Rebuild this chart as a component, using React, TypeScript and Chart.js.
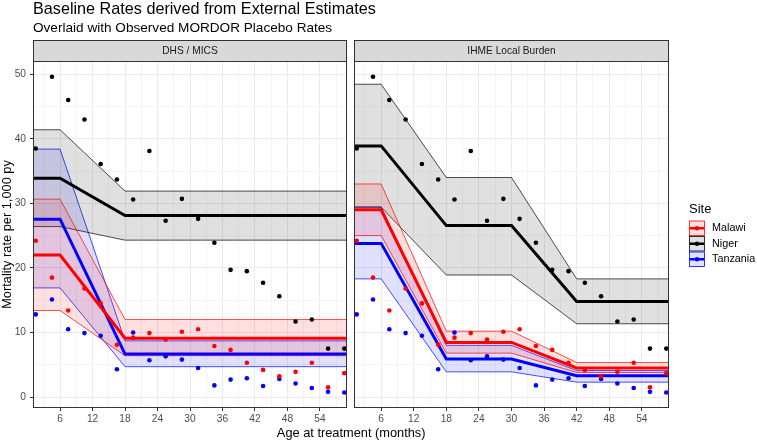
import React, { useEffect, useRef } from "react";
import { Chart, registerables } from "chart.js";
Chart.register(...registerables);

const FONT = "'Liberation Sans', Arial, Helvetica, sans-serif";

const siteNames = ["Malawi", "Niger", "Tanzania"];
const siteColors = ["#ff0000", "#000000", "#0000ff"];
const siteFills = ["rgba(255,0,0,0.12)", "rgba(0,0,0,0.12)", "rgba(0,0,255,0.12)"];

// Observed MORDOR placebo rates (same in both panels)
const obsAge = [1.5, 4.5, 7.5, 10.5, 13.5, 16.5, 19.5, 22.5, 25.5, 28.5, 31.5, 34.5, 37.5, 40.5, 43.5, 46.5, 49.5, 52.5, 55.5, 58.5];
const malawiObs = [24.2, 18.5, 13.4, 16.8, 14.5, 8.1, 9.2, 9.9, 8.9, 10.1, 10.5, 7.9, 7.3, 5.3, 4.2, 3.2, 3.9, 5.3, 1.5, 3.7];
const nigerObs = [38.5, 49.6, 46.0, 43.0, 36.1, 33.7, 30.6, 38.1, 27.3, 30.7, 27.6, 23.9, 19.7, 19.5, 17.7, 15.6, 11.7, 12.0, 7.5, 7.5];
const tanzaniaObs = [12.8, 15.1, 10.5, 9.9, 9.5, 4.3, 10.0, 5.7, 6.3, 5.8, 4.5, 1.8, 2.7, 2.9, 1.7, 2.8, 2.1, 1.4, 0.8, 0.7];

// DHS / MICS estimates
const dhsAge = [1, 6, 18, 59];
const dhsMalawiMean = [22.0, 22.0, 9.1, 9.1];
const dhsMalawiUpper = [30.65, 30.65, 12.0, 12.0];
const dhsMalawiLower = [13.4, 13.4, 6.4, 6.4];
const dhsNigerMean = [33.9, 33.9, 28.1, 28.1];
const dhsNigerUpper = [41.4, 41.4, 31.9, 31.9];
const dhsNigerLower = [26.4, 26.4, 24.3, 24.3];
const dhsTanzaniaMean = [27.55, 27.55, 6.65, 6.65];
const dhsTanzaniaUpper = [38.4, 38.4, 8.7, 8.7];
const dhsTanzaniaLower = [16.9, 16.9, 4.7, 4.7];

// IHME Local Burden estimates
const ihmeAge = [1, 6, 18, 30, 42, 59];
const ihmeMalawiMean = [29.0, 29.0, 8.45, 8.45, 4.5, 4.5];
const ihmeMalawiUpper = [33.0, 33.0, 10.2, 10.2, 5.35, 5.35];
const ihmeMalawiLower = [25.0, 25.0, 6.8, 6.8, 3.8, 3.8];
const ihmeNigerMean = [38.9, 38.9, 26.55, 26.55, 14.8, 14.8];
const ihmeNigerUpper = [48.45, 48.45, 34.0, 34.0, 18.3, 18.3];
const ihmeNigerLower = [29.4, 29.4, 18.9, 18.9, 11.35, 11.35];
const ihmeTanzaniaMean = [23.8, 23.8, 5.9, 5.9, 3.3, 3.3];
const ihmeTanzaniaUpper = [29.45, 29.45, 8.0, 8.0, 4.1, 4.1];
const ihmeTanzaniaLower = [18.3, 18.3, 3.9, 3.9, 2.3, 2.3];

const xGridTicks = [3, 6, 9, 12, 15, 18, 21, 24, 27, 30, 33, 36, 39, 42, 45, 48, 51, 54, 57];
const xLabelTicks = [6, 12, 18, 24, 30, 36, 42, 48, 54];
const yGridTicks = [0, 5, 10, 15, 20, 25, 30, 35, 40, 45, 50];
const yLabelTicks = [0, 10, 20, 30, 40, 50];
const xMin = 1;
const xMax = 59;
const yMin = -1.7;
const yMax = 52.05;

const titleText = "Baseline Rates derived from External Estimates";
const subtitleText = "Overlaid with Observed MORDOR Placebo Rates";
const xTitle = "Age at treatment (months)";
const yTitle = "Mortality rate per 1,000 py";
const legendTitle = "Site";

function pts(xs: number[], ys: number[]) {
  return xs.map((x, i) => ({ x, y: ys[i] }));
}

function buildDatasets(age: number[], means: number[][], uppers: number[][], lowers: number[][]) {
  const obs = [malawiObs, nigerObs, tanzaniaObs];
  const ds: any[] = [];
  for (let i = 0; i < 3; i++) {
    ds.push({
      label: siteNames[i] + " observed",
      data: pts(obsAge, obs[i]),
      showLine: false,
      pointRadius: 2.3,
      pointBorderWidth: 0,
      pointBackgroundColor: siteColors[i],
      borderColor: siteColors[i],
      fill: false,
      order: 0,
    });
  }
  for (let i = 0; i < 3; i++) {
    ds.push({
      label: siteNames[i] + " mean",
      data: pts(age, means[i]),
      borderColor: siteColors[i],
      borderWidth: 3,
      pointRadius: 0,
      tension: 0,
      fill: false,
      order: 1,
    });
  }
  for (let i = 0; i < 3; i++) {
    ds.push({
      label: siteNames[i] + " upper",
      data: pts(age, uppers[i]),
      borderColor: siteColors[i],
      borderWidth: 0.7,
      pointRadius: 0,
      tension: 0,
      fill: "+1",
      backgroundColor: siteFills[i],
      order: 2,
    });
    ds.push({
      label: siteNames[i] + " lower",
      data: pts(age, lowers[i]),
      borderColor: siteColors[i],
      borderWidth: 0.7,
      pointRadius: 0,
      tension: 0,
      fill: false,
      order: 2,
    });
  }
  return ds;
}

function panelDecor(label: string) {
  return {
    id: "panelDecor",
    afterDatasetsDraw(chart: any) {
      const { ctx, chartArea: a } = chart;
      ctx.save();
      ctx.strokeStyle = "#333333";
      ctx.lineWidth = 1;
      ctx.strokeRect(a.left + 0.5, a.top + 0.5, a.right - a.left - 1, a.bottom - a.top - 1);
      ctx.fillStyle = "#d9d9d9";
      ctx.fillRect(a.left, 40, a.right - a.left, 21);
      ctx.strokeRect(a.left + 0.5, 40.5, a.right - a.left - 1, 21);
      ctx.fillStyle = "#1a1a1a";
      ctx.font = `10.2px ${FONT}`;
      ctx.textAlign = "center";
      ctx.textBaseline = "middle";
      ctx.fillText(label, (a.left + a.right) / 2, 51);
      ctx.restore();
    },
  };
}

const annotations = {
  id: "annotations",
  afterDraw(chart: any) {
    const ctx = chart.ctx;
    ctx.save();
    ctx.fillStyle = "#000000";
    ctx.textAlign = "left";
    ctx.textBaseline = "alphabetic";
    ctx.font = `16.2px ${FONT}`;
    ctx.fillText(titleText, 33, 14.3);
    ctx.font = `13.6px ${FONT}`;
    ctx.fillText(subtitleText, 33, 32);
    // x axis title
    ctx.font = `12.8px ${FONT}`;
    ctx.textAlign = "center";
    ctx.fillText(xTitle, 351.2, 437);
    // y axis title
    ctx.save();
    ctx.translate(10.7, 234.5);
    ctx.rotate(-Math.PI / 2);
    ctx.fillText(yTitle, 0, 0);
    ctx.restore();
    // legend
    ctx.textAlign = "left";
    ctx.font = `13px ${FONT}`;
    ctx.fillText(legendTitle, 689, 212.5);
    const keyX = 689.5;
    const keyW = 15;
    const keyH = 14.5;
    const keyYs = [221, 236.5, 252];
    for (let i = 0; i < 3; i++) {
      const y = keyYs[i];
      ctx.fillStyle = "#ffffff";
      ctx.fillRect(keyX, y, keyW, keyH);
      ctx.fillStyle = siteFills[i];
      ctx.fillRect(keyX, y, keyW, keyH);
      ctx.strokeStyle = siteColors[i];
      ctx.lineWidth = 0.8;
      ctx.strokeRect(keyX, y, keyW, keyH);
      const cy = y + keyH / 2;
      ctx.lineWidth = 2.5;
      ctx.beginPath();
      ctx.moveTo(keyX + 0.5, cy);
      ctx.lineTo(keyX + keyW - 0.5, cy);
      ctx.stroke();
      ctx.fillStyle = siteColors[i];
      ctx.beginPath();
      ctx.arc(keyX + keyW / 2, cy, 2.2, 0, Math.PI * 2);
      ctx.fill();
      ctx.fillStyle = "#000000";
      ctx.font = `10.8px ${FONT}`;
      ctx.textBaseline = "middle";
      ctx.fillText(siteNames[i], 712, cy);
      ctx.textBaseline = "alphabetic";
    }
    ctx.restore();
  },
};

function makeOptions(showY: boolean, padLeft: number, padRight: number, yWidth: number) {
  const xMajor = (v: number) => xLabelTicks.includes(v);
  const yMajor = (v: number) => yLabelTicks.includes(v);
  return {
    animation: false,
    responsive: false,
    events: [],
    layout: { padding: { left: padLeft, right: padRight, top: 61, bottom: 0 } },
    plugins: {
      legend: { display: false },
      tooltip: { enabled: false },
      title: { display: false },
    },
    scales: {
      x: {
        type: "linear",
        min: xMin,
        max: xMax,
        afterBuildTicks: (s: any) => {
          s.ticks = xGridTicks.map((v) => ({ value: v }));
        },
        afterFit: (s: any) => {
          s.height = 34;
        },
        border: { display: false },
        grid: {
          color: (c: any) => (xMajor(c.tick?.value) ? "#ebebeb" : "#f4f4f4"),
          lineWidth: 1,
          tickColor: (c: any) => (xMajor(c.tick?.value) ? "#333333" : "rgba(0,0,0,0)"),
          tickLength: 3,
          tickWidth: 1,
          drawTicks: true,
        },
        ticks: {
          autoSkip: false,
          maxRotation: 0,
          minRotation: 0,
          padding: 2,
          color: "#4d4d4d",
          font: { family: FONT, size: 10.2 },
          callback: (v: any) => (xMajor(v) ? String(v) : ""),
        },
      },
      y: {
        type: "linear",
        min: yMin,
        max: yMax,
        afterBuildTicks: (s: any) => {
          s.ticks = yGridTicks.map((v) => ({ value: v }));
        },
        afterFit: (s: any) => {
          s.width = yWidth;
        },
        border: { display: false },
        grid: {
          color: (c: any) => (yMajor(c.tick?.value) ? "#ebebeb" : "#f4f4f4"),
          lineWidth: 1,
          tickColor: (c: any) => (yMajor(c.tick?.value) ? "#333333" : "rgba(0,0,0,0)"),
          tickLength: 3,
          tickWidth: 1,
          drawTicks: showY,
        },
        ticks: {
          display: showY,
          autoSkip: false,
          padding: 4,
          color: "#4d4d4d",
          font: { family: FONT, size: 10.2 },
          callback: (v: any) => (yMajor(v) ? String(v) : ""),
        },
      },
    },
  } as any;
}

export default function App() {
  const leftRef = useRef<HTMLCanvasElement>(null);
  const rightRef = useRef<HTMLCanvasElement>(null);

  useEffect(() => {
    const left = new Chart(leftRef.current!, {
      type: "line",
      data: {
        datasets: buildDatasets(
          dhsAge,
          [dhsMalawiMean, dhsNigerMean, dhsTanzaniaMean],
          [dhsMalawiUpper, dhsNigerUpper, dhsTanzaniaUpper],
          [dhsMalawiLower, dhsNigerLower, dhsTanzaniaLower]
        ),
      },
      options: makeOptions(true, 0, 757 - 347, 33),
      plugins: [panelDecor("DHS / MICS"), annotations],
    } as any);
    const right = new Chart(rightRef.current!, {
      type: "line",
      data: {
        datasets: buildDatasets(
          ihmeAge,
          [ihmeMalawiMean, ihmeNigerMean, ihmeTanzaniaMean],
          [ihmeMalawiUpper, ihmeNigerUpper, ihmeTanzaniaUpper],
          [ihmeMalawiLower, ihmeNigerLower, ihmeTanzaniaLower]
        ),
      },
      options: makeOptions(false, 350, 757 - 669, 4),
      plugins: [panelDecor("IHME Local Burden")],
    } as any);
    return () => {
      left.destroy();
      right.destroy();
    };
  }, []);

  return (
    <div style={{ position: "absolute", left: 0, top: 0, width: 757, height: 442, background: "#ffffff" }}>
      <canvas ref={leftRef} width={757} height={442} style={{ position: "absolute", left: 0, top: 0 }} />
      <canvas ref={rightRef} width={757} height={442} style={{ position: "absolute", left: 0, top: 0 }} />
    </div>
  );
}
